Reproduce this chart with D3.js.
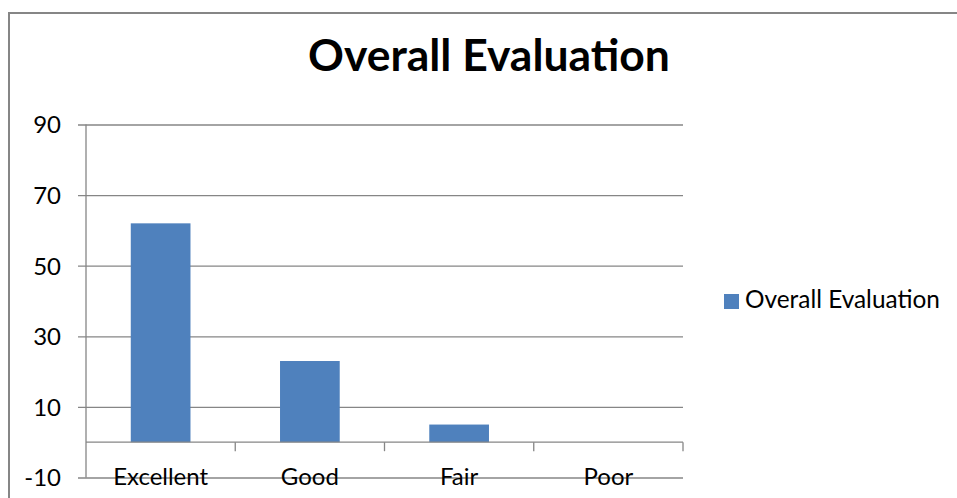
<!DOCTYPE html>
<html>
<head>
<meta charset="utf-8">
<script src="https://cdn.jsdelivr.net/npm/d3@7"></script>
<style>
  html, body { margin: 0; padding: 0; background: #fff; }
  svg { display: block; font-family: Lato, "Open Sans", sans-serif; }
</style>
</head>
<body>
<svg id="chart" width="957" height="498"></svg>
<script>
const categories = ["Excellent", "Good", "Fair", "Poor"];
const values = [62, 23, 5, 0];
const seriesName = "Overall Evaluation";
const titleText = "Overall Evaluation";
const yTicks = [-10, 10, 30, 50, 70, 90];

const svg = d3.select("#chart");

// Chart border
svg.append("rect")
  .attr("x", 9).attr("y", 13)
  .attr("width", 1000).attr("height", 600)
  .attr("fill", "#fff").attr("stroke", "#868686").attr("stroke-width", 2);

const plot = { left: 86, right: 683, top: 124.5, bottom: 477.5 };

const x = d3.scaleBand()
  .domain(categories)
  .range([plot.left, plot.right])
  .paddingInner(0.6)
  .paddingOuter(0.3);

const y = d3.scaleLinear()
  .domain([-10, 90])
  .range([plot.bottom, plot.top]);

const grey = "#868686";

// measure a font size so a sample string reaches a target width
function fitSize(text, weight, target) {
  const t = svg.append("text").style("font-size", "20px").style("font-weight", weight).text(text);
  const w = t.node().getComputedTextLength();
  t.remove();
  return w > 0 ? 20 * target / w : 20;
}
const labelSize = fitSize("Excellent", "normal", 95);

// Gridlines + y tick marks
const yAxis = d3.axisLeft(y).tickValues(yTicks)
  .tickSize(-(plot.right - plot.left + 8))
  .tickFormat(d => String(d));
const gy = svg.append("g")
  .attr("transform", `translate(${plot.left - 8},0)`)
  .call(yAxis);
gy.select(".domain").remove();
gy.selectAll(".tick line").attr("stroke", grey).attr("stroke-width", 1.3);
gy.selectAll(".tick text")
  .attr("x", -17).attr("dy", "0.35em")
  .attr("fill", "#000").style("font-size", labelSize + "px")
  .style("font-family", "Lato, sans-serif");

// Bars
svg.append("g").selectAll("rect").data(values).join("rect")
  .attr("x", (d, i) => x(categories[i]))
  .attr("y", d => y(Math.max(d, 0)))
  .attr("width", x.bandwidth())
  .attr("height", d => Math.abs(y(d) - y(0)))
  .attr("fill", "#4F81BD");

// Left value axis line
svg.append("line")
  .attr("x1", plot.left).attr("x2", plot.left)
  .attr("y1", plot.top).attr("y2", plot.bottom)
  .attr("stroke", grey).attr("stroke-width", 1.3);

// Category axis at zero
const xAxis = d3.axisBottom(x).tickSize(0).tickFormat(() => "");
const gx = svg.append("g").attr("transform", `translate(0,${y(0)})`).call(xAxis);
gx.select(".domain").attr("stroke", grey).attr("stroke-width", 1.3)
  .attr("d", `M${plot.left},0H${plot.right}`);
gx.selectAll(".tick").remove();

// Category boundary tick marks
const bounds = d3.range(1, categories.length + 1)
  .map(i => plot.left + i * (plot.right - plot.left) / categories.length);
svg.append("g").selectAll("line").data(bounds).join("line")
  .attr("x1", d => d).attr("x2", d => d)
  .attr("y1", y(0)).attr("y2", y(0) + 9)
  .attr("stroke", grey).attr("stroke-width", 1.3);

// Category labels
svg.append("g").selectAll("text").data(categories).join("text")
  .attr("x", d => x(d) + x.bandwidth() / 2)
  .attr("y", 485)
  .attr("text-anchor", "middle")
  .attr("fill", "#000")
  .style("font-size", labelSize + "px")
  .text(d => d);

// Title
svg.append("text")
  .attr("x", 489).attr("y", 71)
  .attr("text-anchor", "middle")
  .attr("fill", "#000")
  .style("font-size", fitSize(titleText, "bold", 362) + "px")
  .style("font-weight", "bold")
  .text(titleText);

// Legend
const lg = svg.append("g").attr("transform", "translate(724,294)");
lg.append("rect").attr("width", 15).attr("height", 15).attr("fill", "#4F81BD");
lg.append("text").attr("x", 21).attr("y", 14)
  .attr("fill", "#000")
  .style("font-size", fitSize(seriesName, "normal", 195) + "px")
  .text(seriesName);
</script>
</body>
</html>
